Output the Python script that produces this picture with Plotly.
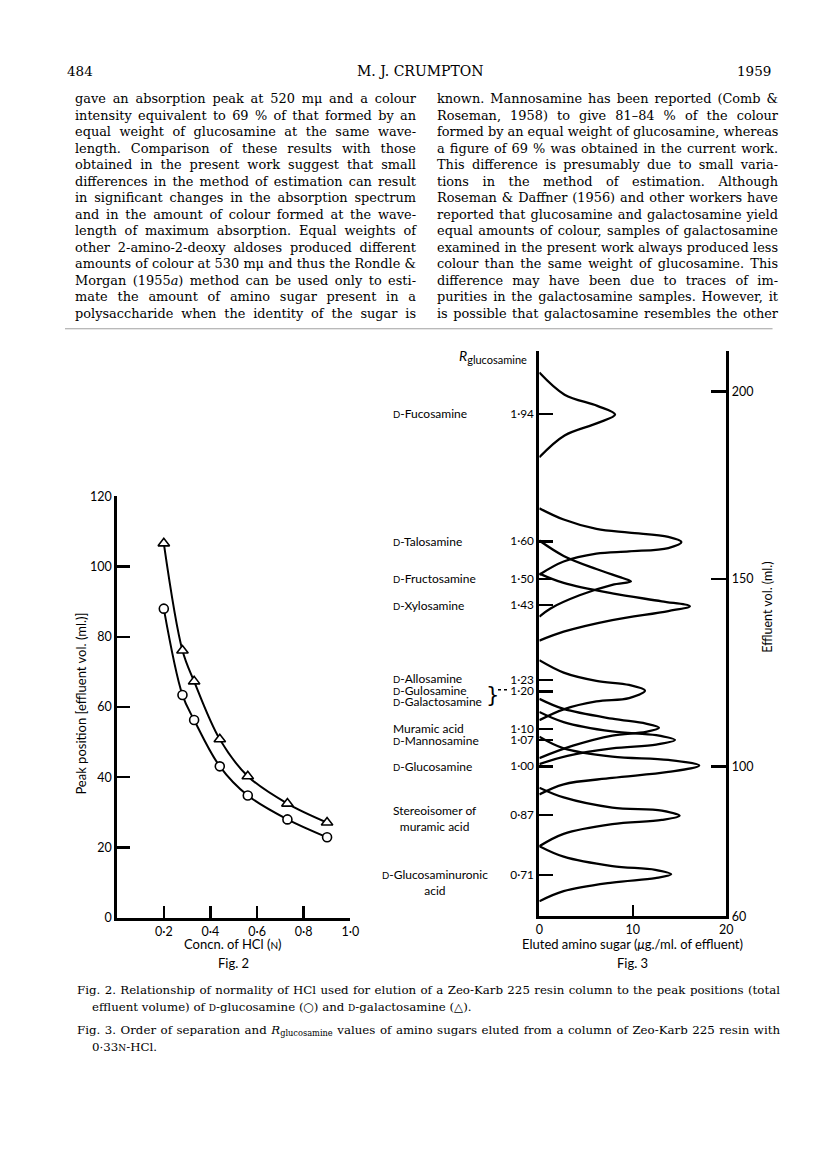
import json
import plotly.graph_objects as go

W, H = 816, 1155
def fx(x): return x / W
def fy(y): return 1 - y / H

# ---------------- Fig. 2 data ----------------
hcl_conc = [0.2, 0.28, 0.33, 0.44, 0.56, 0.73, 0.9]
glucosamine_vol = [88.0, 63.4, 56.3, 43.1, 34.8, 28.0, 22.9]
galactosamine_vol = [106.6, 76.1, 67.3, 50.8, 40.3, 32.5, 27.1]
fig2_xtickvals = [0.2, 0.4, 0.6, 0.8, 1.0]
fig2_xticktext = ["0·2", "0·4", "0·6", "0·8", "1·0"]
fig2_ytickvals = [0, 20, 40, 60, 80, 100, 120]

# ---------------- Fig. 3 data ----------------
r_values = [1.94, 1.60, 1.50, 1.43, 1.23, 1.20, 1.10, 1.07, 1.00, 0.87, 0.71]
r_ticktext = ["1·94", "1·60", "1·50", "1·43", "1·23", "1·20", "1·10", "1·07", "1·00", "0·87", "0·71"]
effluent_tickvals = [60, 100, 150, 200]
fig3_xtickvals = [0, 10, 20]

fucosamine_ug = [0, 2.7, 6.2, 8.1, 6.2, 2.7, 0]
fucosamine_ml = [205.0, 199.1, 196.1, 193.8, 191.5, 188.2, 182.4]
talosamine_ug = [0, 2.6, 6.1, 9.6, 13.8, 15.2, 13.8, 9.6, 6.1, 2.6, 0]
talosamine_ml = [168.8, 165.8, 163.3, 162.3, 161.2, 159.8, 158.2, 157.3, 156.7, 154.6, 151.1]
fructosamine_ug = [0, 2.6, 6.1, 8.9, 9.8, 7.8, 4.3, 1.2, 0]
fructosamine_ml = [160.2, 156.1, 152.6, 150.2, 149.3, 148.4, 145.6, 142.1, 139.9]
xylosamine_ug = [0, 2.6, 7.8, 13.1, 16.1, 13.8, 7.8, 2.6, 0]
xylosamine_ml = [151.4, 148.9, 146.1, 144.0, 142.7, 141.4, 139.0, 135.9, 133.5]
galactosamine_ug = [0, 2.6, 6.1, 9.6, 11.3, 9.6, 6.1, 2.6, 0]
galactosamine_ml = [128.3, 125.0, 122.8, 121.7, 120.2, 118.2, 117.3, 115.2, 112.3]
muramic_ug = [0, 2.6, 7.8, 11.4, 12.8, 11.4, 7.8, 3.6, 0]
muramic_ml = [118.0, 115.3, 112.7, 111.4, 110.3, 109.2, 108.2, 105.5, 102.2]
mannosamine_ug = [0, 2.6, 7.8, 12.5, 14.5, 12.5, 7.8, 3.0, 0]
mannosamine_ml = [114.5, 111.8, 109.3, 108.3, 107.0, 105.8, 104.8, 102.8, 100.6]
glucosamine_ug = [0, 2.6, 7.8, 13.8, 17.1, 13.8, 7.8, 2.6, 0]
glucosamine_ml = [107.9, 104.8, 102.6, 101.7, 100.2, 98.5, 96.9, 95.2, 92.5]
stereoisomer_ug = [0, 2.6, 7.8, 13.1, 15.0, 13.1, 7.8, 2.6, 0]
stereoisomer_ml = [94.3, 91.7, 89.0, 88.2, 86.8, 85.7, 84.6, 82.0, 78.7]
uronic_ug = [0, 2.6, 7.8, 12.4, 14.1, 12.4, 7.8, 2.6, 0]
uronic_ml = [78.7, 75.9, 73.4, 72.4, 71.2, 70.2, 69.0, 66.7, 64.0]

peaks = [
    (fucosamine_ug, fucosamine_ml), (talosamine_ug, talosamine_ml),
    (fructosamine_ug, fructosamine_ml), (xylosamine_ug, xylosamine_ml),
    (galactosamine_ug, galactosamine_ml), (muramic_ug, muramic_ml),
    (mannosamine_ug, mannosamine_ml), (glucosamine_ug, glucosamine_ml),
    (stereoisomer_ug, stereoisomer_ml), (uronic_ug, uronic_ml),
]

SC = "<span style='font-size:9.5px'>D</span>"
sugar_labels = [
    (SC + "-Fucosamine", 1.94, 0, "left"),
    (SC + "-Talosamine", 1.60, 0, "left"),
    (SC + "-Fructosamine", 1.50, 0, "left"),
    (SC + "-Xylosamine", 1.43, 0, "left"),
    (SC + "-Allosamine", 1.23, 2, "left"),
    (SC + "-Gulosamine", 1.20, 1, "left"),
    (SC + "-Galactosamine", 1.20, -10, "left"),
    ("Muramic acid", 1.10, 0, "left"),
    (SC + "-Mannosamine", 1.07, 0, "left"),
    (SC + "-Glucosamine", 1.00, 0, "left"),
    ("Stereoisomer of<br>muramic acid", 0.87, -3, "center"),
    (SC + "-Glucosaminuronic<br>acid", 0.71, -7, "center"),
]

left_col = [
    "gave an absorption peak at 520 mμ and a colour",
    "intensity equivalent to 69 % of that formed by an",
    "equal weight of glucosamine at the same wave-",
    "length. Comparison of these results with those",
    "obtained in the present work suggest that small",
    "differences in the method of estimation can result",
    "in significant changes in the absorption spectrum",
    "and in the amount of colour formed at the wave-",
    "length of maximum absorption. Equal weights of",
    "other 2-amino-2-deoxy aldoses produced different",
    "amounts of colour at 530 mμ and thus the Rondle &amp;",
    "Morgan (1955<i>a</i>) method can be used only to esti-",
    "mate the amount of amino sugar present in a",
    "polysaccharide when the identity of the sugar is",
]
right_col = [
    "known. Mannosamine has been reported (Comb &amp;",
    "Roseman, 1958) to give 81–84 % of the colour",
    "formed by an equal weight of glucosamine, whereas",
    "a figure of 69 % was obtained in the current work.",
    "This difference is presumably due to small varia-",
    "tions in the method of estimation. Although",
    "Roseman &amp; Daffner (1956) and other workers have",
    "reported that glucosamine and galactosamine yield",
    "equal amounts of colour, samples of galactosamine",
    "examined in the present work always produced less",
    "colour than the same weight of glucosamine. This",
    "difference may have been due to traces of im-",
    "purities in the galactosamine samples. However, it",
    "is possible that galactosamine resembles the other",
]

SERIF = "DejaVu Serif"
SANS = "Lato"

fig = go.Figure()

# Fig. 2 traces
fig.add_trace(go.Scatter(
    x=hcl_conc, y=glucosamine_vol, xaxis="x", yaxis="y", mode="lines+markers",
    line=dict(color="black", width=2, shape="spline"),
    marker=dict(symbol="circle", size=9, color="white", line=dict(color="black", width=1.6)),
    showlegend=False, hoverinfo="skip"))
fig.add_trace(go.Scatter(
    x=hcl_conc, y=galactosamine_vol, xaxis="x", yaxis="y", mode="lines+markers",
    line=dict(color="black", width=2, shape="spline"),
    marker=dict(symbol="triangle-up", size=10, color="white", line=dict(color="black", width=1.6)),
    showlegend=False, hoverinfo="skip"))

# Fig. 3 traces
for xs, ys in peaks:
    fig.add_trace(go.Scatter(
        x=xs, y=ys, xaxis="x2", yaxis="y2", mode="lines",
        line=dict(color="black", width=2.3, shape="spline", smoothing=1),
        showlegend=False, hoverinfo="skip"))
fig.add_trace(go.Scatter(x=[None], y=[None], xaxis="x2", yaxis="y3", showlegend=False))

axis_common = dict(showline=True, linecolor="black", linewidth=3, ticks="inside",
                   tickcolor="black", tickwidth=2.5, showgrid=False, zeroline=False,
                   tickfont=dict(family=SANS, size=12.5, color="black"), fixedrange=True)
axis_common3 = dict(axis_common, tickfont=dict(family=SANS, size=11.8, color="black"))

y3_range = [60, 100 + (768.3 - 348) / 3.8]

fig.update_layout(
    width=W, height=H, margin=dict(l=0, r=0, t=0, b=0),
    paper_bgcolor="white", plot_bgcolor="rgba(0,0,0,0)",
    xaxis=dict(domain=[fx(115), fx(352)], range=[0, 1.0], anchor="y",
               tickvals=fig2_xtickvals, ticktext=fig2_xticktext, ticklen=12, **axis_common),
    yaxis=dict(domain=[fy(921.7), fy(494.7)], range=[0, 120], anchor="x",
               tickvals=fig2_ytickvals, ticklen=13, **axis_common),
    xaxis2=dict(domain=[fx(544), fx(734)], range=[0, 20], anchor="y2",
                tickvals=fig3_xtickvals, ticklen=11, **axis_common),
    yaxis2=dict(domain=[fy(920.3), fy(348)], range=y3_range, anchor="x2",
                tickvals=[r * 100 for r in r_values], ticktext=r_ticktext, ticklen=14, **axis_common3),
    yaxis3=dict(domain=[fy(920.3), fy(348)], range=y3_range, anchor="x2", overlaying="y2",
                side="right", tickvals=effluent_tickvals, ticklen=15, **axis_common),
)

ann = []
justify = {}
def text(x, y, s, size=12.5, family=SANS, xanchor="left", angle=0, align="left", width=None):
    if width is not None:
        justify[len(ann)] = width
    ann.append(dict(x=fx(x), y=fy(y), xref="paper", yref="paper", text=s, showarrow=False,
                    xanchor=xanchor, yanchor="middle", textangle=angle, align=align,
                    font=dict(family=family, size=size, color="black")))

# header
text(62, 64, "484", 13.5, SERIF)
text(423, 64, "M. J. CRUMPTON", 14, SERIF, "center")
text(781, 64, "1959", 13.5, SERIF, "right")

# body text (justified columns)
for i, line in enumerate(left_col):
    text(70, 92 + i * 16.7, line, 12.9, SERIF, width=341)
for i, line in enumerate(right_col):
    text(438, 92 + i * 16.7, line, 12.9, SERIF, width=341)

# Fig 2 labels
text(78, 705, "Peak position [effluent vol. (ml.)]", 13, SANS, "center", -90)
text(233, 948, "Concn. of HCl (<span style='font-size:10px'>N</span>)", 13, SANS, "center")
text(233, 968, "Fig. 2", 13, SANS, "center")

# Fig 3 labels
text(533, 353, "<i>R</i><sub><span style='font-size:11px'>glucosamine</span></sub>", 14, SANS, "right")
text(775, 607, "Effluent vol. (ml.)", 12.5, SANS, "center", -90)
text(639, 948, "Eluted amino sugar (<i>μ</i>g./ml. of effluent)", 13, SANS, "center")
text(639, 968, "Fig. 3", 13, SANS, "center")

for name, r, shift, al in sugar_labels:
    ann.append(dict(x=fx(393) if al == "left" else fx(438), y=r * 100, xref="paper", yref="y2",
                    text=name, showarrow=False, xanchor="left" if al == "left" else "center",
                    yanchor="middle", yshift=shift, align=al,
                    font=dict(family=SANS, size=12, color="black")))

# brace
text(496, 696, "}", 21, "DejaVu Sans", "center")

# captions
cap1 = ("Fig. 2. Relationship of normality of HCl used for elution of a Zeo-Karb 225 resin column to the peak positions (total")
cap2 = ("effluent volume) of <span style='font-size:9px'>D</span>-glucosamine (○) and "
        "<span style='font-size:9px'>D</span>-galactosamine (△).")
cap3 = ("Fig. 3. Order of separation and <i>R</i><sub>glucosamine</sub> values of amino sugars eluted "
        "from a column of Zeo-Karb 225 resin with")
cap4 = "0·33<span style='font-size:9px'>N</span>-HCl."
text(72, 995, cap1, 11.8, SERIF, width=703)
text(87, 1012, cap2, 11.8, SERIF)
text(72, 1036, cap3, 11.8, SERIF, width=703)
text(87, 1053, cap4, 11.8, SERIF)

fig.update_layout(annotations=ann)

shapes = [
    dict(type="line", xref="paper", yref="paper", x0=fx(62), x1=fx(781), y0=fy(325), y1=fy(325),
         line=dict(color="#a0a0a0", width=1)),
    dict(type="line", xref="paper", yref="paper", x0=fx(502), x1=fx(513), y0=fy(690.7), y1=fy(690.7),
         line=dict(color="black", width=1.3, dash="dot")),
]
fig.update_layout(shapes=shapes)

post = """
document.body.style.margin='0';
var T = %s;
var els = document.querySelectorAll('text.annotation-text');
Object.keys(T).forEach(function(k){
  var el = els[+k]; if(!el) return;
  var w = el.getComputedTextLength();
  var n = (el.textContent.match(/[ \\u00a0]/g) || []).length;
  if (n > 0 && w < T[k]) { el.style.wordSpacing = ((T[k] - w) / n) + 'px'; }
});
""" % json.dumps({str(k): v for k, v in justify.items()})

fig.write_html("out.html", config={"staticPlot": True}, post_script=post)
